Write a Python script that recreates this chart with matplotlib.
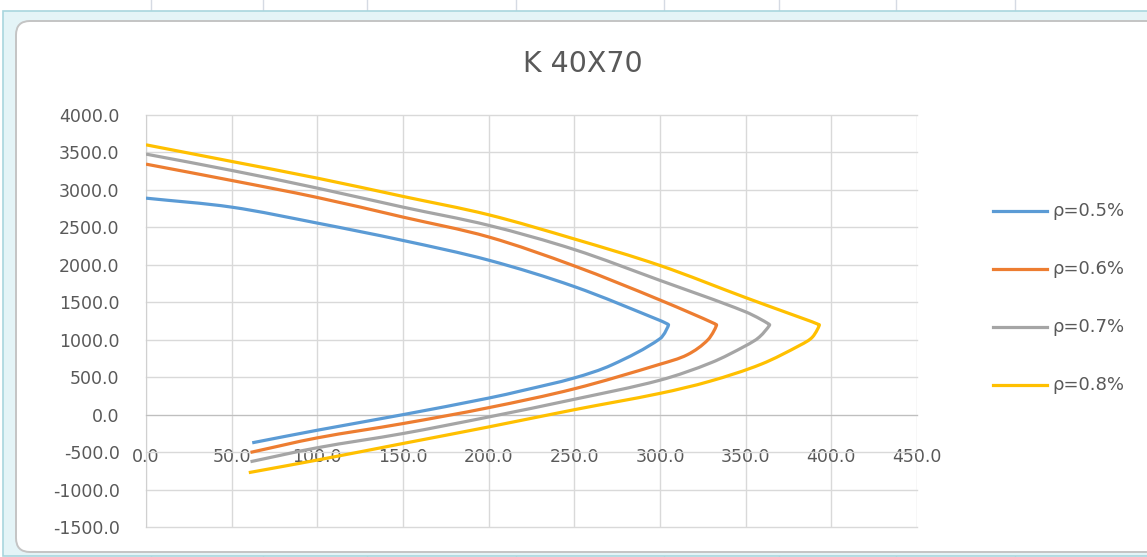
import matplotlib
matplotlib.use("Agg")
import numpy as np
import matplotlib.pyplot as plt
from matplotlib.patches import Rectangle, FancyBboxPatch, PathPatch
from matplotlib.path import Path
from matplotlib.lines import Line2D
from matplotlib.transforms import IdentityTransform

# interaction curves, moment M (x) against axial force N (y)
labels = ["ρ=0.5%", "ρ=0.6%", "ρ=0.7%", "ρ=0.8%"]
colors = ["#5B9BD5", "#ED7D31", "#A5A5A5", "#FFC000"]

m_05 = [0, 50, 100, 150, 200, 250, 300, 305, 300, 272, 250, 220, 200, 150, 100, 62]
n_05 = [2890, 2770, 2557, 2325, 2062, 1709, 1257, 1200, 1014, 665, 490, 323, 221, 0, -208, -376]

m_06 = [0, 50, 100, 150, 200, 250, 300, 333, 328, 316, 300, 250, 200, 150, 100, 61]
n_06 = [3344, 3126, 2899, 2637, 2372, 1985, 1530, 1200, 1000, 800, 673, 345, 93, -119, -310, -504]

m_07 = [0, 50, 100, 150, 200, 250, 300, 350, 364, 358, 350, 330, 300, 250, 200, 150, 100, 61]
n_07 = [3478, 3260, 3024, 2770, 2527, 2204, 1792, 1372, 1200, 1036, 920, 695, 460, 205, -31, -252, -442, -628]

m_08 = [0, 50, 100, 150, 200, 250, 300, 350, 393, 389, 382, 359, 329, 300, 250, 200, 150, 100, 60]
n_08 = [3602, 3380, 3157, 2913, 2668, 2345, 1991, 1562, 1200, 1036, 930, 673, 445, 284, 66, -164, -385, -606, -774]

series = [(m_05, n_05), (m_06, n_06), (m_07, n_07), (m_08, n_08)]

x_ticks = [0, 50, 100, 150, 200, 250, 300, 350, 400, 450]
y_ticks = [-1500, -1000, -500, 0, 500, 1000, 1500, 2000, 2500, 3000, 3500, 4000]

# rough screen units per data unit, so the smoothing is not skewed
SX, SY = 771 / 450, 412 / 5500


def smooth_path(xs, ys):
    # smoothed line: cubic Bezier pieces through every point, handles along
    # the neighbour chord and a third of the segment long; the point of
    # largest moment is kept nearly sharp
    p = np.column_stack([np.asarray(xs, float) * SX, np.asarray(ys, float) * SY])
    n = len(p)
    tip = int(np.argmax(xs))
    tang = np.zeros_like(p)
    for i in range(n):
        a = p[max(i - 1, 0)]
        b = p[min(i + 1, n - 1)]
        d = b - a
        tang[i] = d / np.hypot(*d)
    scale = np.ones(n)
    scale[tip] = 0.12
    verts = [p[0]]
    codes = [Path.MOVETO]
    for i in range(n - 1):
        seg = np.hypot(*(p[i + 1] - p[i]))
        c1 = p[i] + tang[i] * seg / 3 * scale[i]
        c2 = p[i + 1] - tang[i + 1] * seg / 3 * scale[i + 1]
        verts += [c1, c2, p[i + 1]]
        codes += [Path.CURVE4] * 3
    verts = np.array(verts) / [SX, SY]
    return Path(verts, codes)


W, H = 1147, 557
fig = plt.figure(figsize=(W / 100, H / 100), dpi=100)
fig.patch.set_facecolor("white")
px = IdentityTransform()

# spreadsheet cells behind the chart
for cx in [151, 263, 367, 516, 664, 779, 896, 1015]:
    fig.add_artist(Line2D([cx, cx], [H - 12, H], transform=px,
                          color="#d5dae3", lw=1, zorder=-10))
    fig.add_artist(Line2D([cx, cx], [0, 3], transform=px,
                          color="#d5dae3", lw=1, zorder=-10))

# selection frame and chart area
fig.add_artist(Rectangle((3, 1), 1160, H - 12, transform=px,
                         facecolor="#e4f4f7", edgecolor="#a9d6de", lw=1.2,
                         zorder=-9))
fig.add_artist(FancyBboxPatch((16, 5), 1150, H - 26,
                              boxstyle="round,pad=0,rounding_size=14",
                              transform=px, facecolor="white",
                              edgecolor="#c4c4c4", lw=1.4, zorder=-8))

ax = fig.add_axes([146 / W, 30 / H, (917 - 146) / W, (527 - 115) / H])
ax.set_facecolor("none")
ax.set_zorder(2)

for (m, n), lab, c in zip(series, labels, colors):
    ax.add_patch(PathPatch(smooth_path(m, n), fill=False, edgecolor=c,
                           lw=2.3, label=lab, joinstyle="round",
                           capstyle="butt", zorder=3))

ax.set_xlim(0, 450)
ax.set_ylim(-1500, 4000)
ax.set_xticks(x_ticks)
ax.set_yticks(y_ticks)
ax.set_xticklabels([f"{v:.1f}" for v in x_ticks])
ax.set_yticklabels([f"{v:.1f}" for v in y_ticks])
ax.grid(True, color="#d9d9d9", lw=1)
ax.set_axisbelow(True)
for gl in ax.get_xgridlines() + ax.get_ygridlines():
    gl.set_clip_on(False)

for s in ["top", "right"]:
    ax.spines[s].set_visible(False)
ax.spines["left"].set_color("#d0d0d0")
ax.spines["bottom"].set_position(("data", 0))
ax.spines["bottom"].set_color("#bfbfbf")
ax.tick_params(axis="both", length=0, labelsize=12.5, labelcolor="#595959")
ax.tick_params(axis="y", pad=19)
ax.tick_params(axis="x", pad=24)

fig.text(583 / W, 1 - 64 / H, "K 40X70", ha="center", va="center",
         fontsize=20.5, color="#595959", zorder=3)

# legend on the right
for i, (lab, c) in enumerate(zip(labels, colors)):
    ly = H - (211 + i * 58)
    fig.add_artist(Line2D([993, 1047], [ly, ly], transform=px,
                          color=c, lw=2.3, zorder=3))
    fig.text(1052 / W, ly / H, lab, ha="left", va="center", fontsize=13,
             color="#595959", zorder=3)

fig.savefig("out.png", dpi=100)
